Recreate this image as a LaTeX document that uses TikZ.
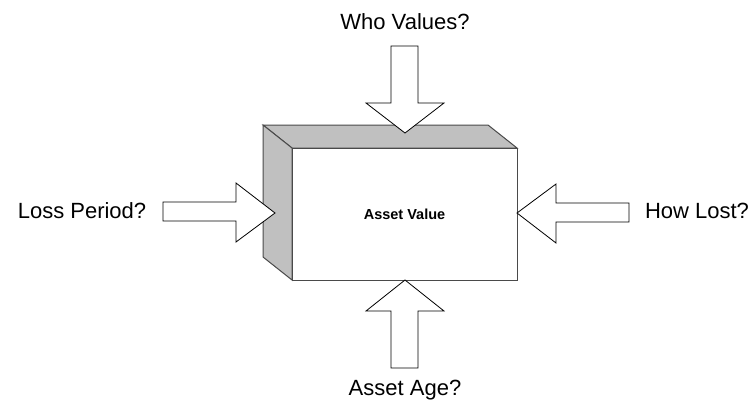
\documentclass[tikz,border=0pt]{standalone}
\usepackage{fontspec}
\setmainfont{Liberation Sans}
\usetikzlibrary{calc}
\definecolor{figSide}{HTML}{C0C0C0}
\definecolor{figEdge}{HTML}{4A4A4A}
\definecolor{figInk}{HTML}{000000}
\definecolor{figBg}{HTML}{FFFFFF}

\begin{document}
\begin{tikzpicture}[x=1pt,y=-1pt,
    face/.style={fill=figSide,draw=figEdge,line width=1pt,line join=miter},
    blockarrow/.style={fill=figBg,draw=figInk,line width=0.8pt,line join=miter},
    question/.style={text=figInk,font=\fontsize{22}{26}\selectfont,inner sep=0pt,anchor=base}]
    \useasboundingbox (0,0) rectangle (755,399);
    % box corners (back and front)
    \coordinate (BTL) at (263,125);
    \coordinate (BTR) at (488,125);
    \coordinate (BBL) at (263,257);
    \coordinate (FTL) at (292,148);
    \coordinate (FTR) at (517,148);
    \coordinate (FBL) at (292,280);
    \coordinate (FBR) at (517,280);
    % top and left faces
    \filldraw[face] (BTL)--(BTR)--(FTR)--(FTL)--cycle;
    \filldraw[face] (BTL)--(FTL)--(FBL)--(BBL)--cycle;
    % front face
    \filldraw[face,fill=figBg] (FTL) rectangle (FBR);
    \node (value) [text=figInk,font=\bfseries\fontsize{14.5}{17}\selectfont] at ($(FTL)!0.5!(FBR)$) {Asset Value};
    % arrows pushing in from the four sides
    \draw[blockarrow] (391,46)--(418,46)--(418,103)--(444,103)--(405,133)--(366,103)--(391,103)--cycle;
    \draw[blockarrow] (391,368)--(418,368)--(418,311)--(444,311)--(405,280)--(366,311)--(391,311)--cycle;
    \draw[blockarrow] (163,202)--(236,202)--(236,183)--(275,213)--(236,242)--(236,221)--(163,221)--cycle;
    \draw[blockarrow] (629,203)--(556,203)--(556,184)--(517,213)--(556,243)--(556,222)--(629,222)--cycle;
    % questions at the arrow tails
    \node (who) [question] at (405,29) {Who Values?};
    \node (period) [question] at (82,218) {Loss Period?};
    \node (how) [question] at (697,218) {How Lost?};
    \node (age) [question] at (405,395) {Asset Age?};
\end{tikzpicture}
\end{document}
